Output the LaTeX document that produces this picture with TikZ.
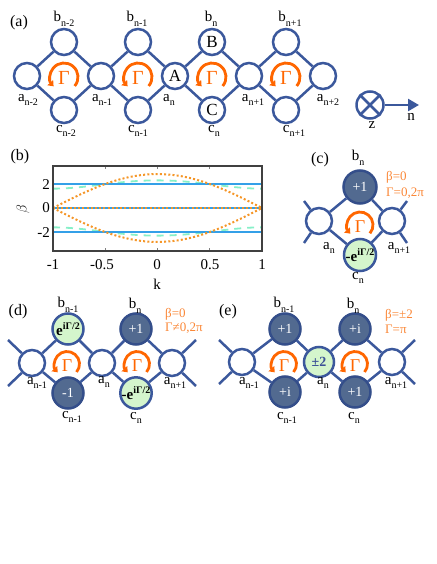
\documentclass[tikz,border=0pt]{standalone}
\usepackage{fontspec}
\setmainfont{Liberation Serif}
\usetikzlibrary{arrows.meta,calc}
\definecolor{lat}{RGB}{59,88,156}
\definecolor{dfill}{RGB}{82,106,144}
\definecolor{dborder}{RGB}{52,78,138}
\definecolor{gfill}{RGB}{212,245,204}
\definecolor{garr}{RGB}{255,102,0}
\definecolor{olab}{RGB}{250,135,55}
\definecolor{pblue}{RGB}{52,160,232}
\definecolor{pgreen}{RGB}{135,240,200}
\definecolor{porange}{RGB}{245,150,40}
\definecolor{pm}{RGB}{59,80,150}
\newcommand{\lb}[2]{#1\raisebox{-0.3em}{\fontsize{10}{10}\selectfont #2}}
\newcommand{\ephase}{{\fontsize{15}{15}\selectfont\bfseries e}\raisebox{6pt}{\fontsize{10}{10}\selectfont\bfseries iΓ/2}}
\newcommand{\mephase}{{\fontsize{15}{15}\selectfont\bfseries -e}\raisebox{6pt}{\fontsize{10}{10}\selectfont\bfseries iΓ/2}}
\begin{document}
\begin{tikzpicture}[x=1pt,y=-1pt,
  site/.style={circle, draw=lat, line width=2.5pt, fill=white, minimum size=26pt, inner sep=0pt, font=\fontsize{17}{17}\selectfont},
  dsite/.style={site, fill=dfill, draw=dborder, minimum size=31pt, text=white, font=\fontsize{14}{14}\selectfont},
  gsite/.style={site, fill=gfill, minimum size=31pt, font=\fontsize{14}{14}\selectfont},
  bond/.style={draw=lat, line width=2.5pt},
  lbl/.style={font=\fontsize{15}{15}\selectfont, inner sep=0pt},
  plabel/.style={font=\fontsize{16}{16}\selectfont, inner sep=0pt},
  olbl/.style={text=olab, font=\fontsize{13}{13}\selectfont, anchor=west, inner sep=0pt},
  garrow/.style={draw=garr, line width=2.8pt, -{Triangle[length=5pt,width=7.5pt]}},
  gam/.style={text=garr, inner sep=0pt, font=\fontsize{20}{20}\selectfont},
  gams/.style={gam, font=\fontsize{18}{18}\selectfont},
  tick/.style={font=\fontsize{15}{15}\selectfont, inner sep=0pt},
  pframe/.style={draw=black!75, line width=1.5pt},
  ptick/.style={draw=black!50, line width=0.6pt},
  bandblue/.style={draw=pblue, line width=1.7pt},
  bandgreen/.style={draw=pgreen, line width=1.8pt, dash pattern=on 7pt off 6pt},
  bandorange/.style={draw=porange, line width=2pt, dash pattern=on 2pt off 2.2pt}
]
\useasboundingbox (0,0) rectangle (436,564);

%% ---------------- panel (a) ----------------
\node[plabel] (la) at (19,23) {(a)};
\node[site] (a1) at (27,76) {};
\node[site] (a2) at (101,76) {};
\node[site] (a3) at (175,76) {A};
\node[site] (a4) at (249,76) {};
\node[site] (a5) at (323,76) {};
\node[site] (b1) at (64,42) {};
\node[site] (b2) at (138,42) {};
\node[site] (b3) at (212,42) {B};
\node[site] (b4) at (286,42) {};
\node[site] (c1) at (64,110) {};
\node[site] (c2) at (138,110) {};
\node[site] (c3) at (212,110) {C};
\node[site] (c4) at (286,110) {};
\foreach \p/\q in {a1/b1,a1/c1,b1/a2,c1/a2,a2/b2,a2/c2,b2/a3,c2/a3,a3/b3,a3/c3,b3/a4,c3/a4,a4/b4,a4/c4,b4/a5,c4/a5}
  \draw[bond] (\p) -- (\q);
\foreach \k/\x in {1/64,2/138,3/212,4/286}{
  \coordinate (ga\k) at (\x,77);
  \draw[garrow] ($(ga\k)+(-40:14pt)$) arc[start angle=-40,end angle=222,radius=14pt];
  \node[gam] (gt\k) at (\x,78) {Γ};
}
\node[lbl] (lb1) at (64,19) {\lb{b}{n-2}};
\node[lbl] (lb2) at (137,19) {\lb{b}{n-1}};
\node[lbl] (lb3) at (211,19) {\lb{b}{n}};
\node[lbl] (lb4) at (290,19) {\lb{b}{n+1}};
\node[lbl] (la1) at (28,100) {\lb{a}{n-2}};
\node[lbl] (la2) at (102,100) {\lb{a}{n-1}};
\node[lbl] (la3) at (169,100) {\lb{a}{n}};
\node[lbl] (la4) at (253,100) {\lb{a}{n+1}};
\node[lbl] (la5) at (328,100) {\lb{a}{n+2}};
\node[lbl] (lc1) at (66,131) {\lb{c}{n-2}};
\node[lbl] (lc2) at (138,131) {\lb{c}{n-1}};
\node[lbl] (lc3) at (214,131) {\lb{c}{n}};
\node[lbl] (lc4) at (294,131) {\lb{c}{n+1}};
% axes symbol
\node[site, minimum size=27pt] (zc) at (370,105) {};
\draw[bond] (zc.45) -- (zc.225);
\draw[bond] (zc.135) -- (zc.-45);
\coordinate (narr) at (419,105);
\draw[bond, -{Triangle[length=11pt,width=12pt]}] (zc) -- (narr);
\node[lbl] (zl) at (372,125) {z};
\node[lbl] (nl) at (411,117) {n};

%% ---------------- panel (b) ----------------
\node[plabel] (lbb) at (20,157) {(b)};
\foreach \t in {-0.5,0,0.5}{
  \draw[ptick] ({157.5+104.5*\t},166) -- ++(0,3);
  \draw[ptick] ({157.5+104.5*\t},251) -- ++(0,-3);
}
\foreach \b in {-2,0,2}{
  \draw[ptick] (53,{208-12*\b}) -- ++(3,0);
  \draw[ptick] (262,{208-12*\b}) -- ++(-3,0);
}
\draw[bandgreen] plot[domain=-1:1,samples=60] ({157.5+104.5*\x},{208-12*sqrt(2.6+2.7*cos(90*\x)^2)});
\draw[bandgreen] plot[domain=-1:1,samples=60] ({157.5+104.5*\x},{208+12*sqrt(2.6+2.7*cos(90*\x)^2)});
\draw[bandblue] (53,184) -- (262,184);
\draw[bandblue] (53,208) -- (262,208);
\draw[bandblue] (53,232) -- (262,232);
\draw[bandorange] plot[domain=-1:1,samples=60] ({157.5+104.5*\x},{208-12*2.828*cos(90*\x)});
\draw[bandorange] plot[domain=-1:1,samples=60] ({157.5+104.5*\x},{208+12*2.828*cos(90*\x)});
\draw[bandorange] (53,208) -- (262,208);
\draw[pframe] (53,166) rectangle (262,251);
\node[tick, anchor=east] (y2) at (50,185) {2};
\node[tick, anchor=east] (y0) at (50,208) {0};
\node[tick, anchor=east] (ym2) at (50,233) {-2};
\node[tick] (xm1) at (53,265) {-1};
\node[tick] (xm05) at (102,265) {-0.5};
\node[tick] (x0) at (157,265) {0};
\node[tick] (x05) at (210,265) {0.5};
\node[tick] (x1) at (262,265) {1};
\node[tick] (kl) at (157,284) {k};
\node[tick, rotate=90] (bl) at (23,209) {$\beta$};

%% ---------------- panel (c) ----------------
\node[plabel] (lcc) at (320,160) {(c)};
\node[dsite, minimum size=33pt] (cb) at (360,187) {+1};
\node[site] (ca1) at (319,221) {};
\node[site] (ca2) at (392,221) {};
\node[gsite, minimum size=32pt] (cc) at (360,255) {\mephase};
\coordinate (cs1) at (304,201);
\coordinate (cs2) at (304,243);
\coordinate (cs3) at (407,201);
\coordinate (cs4) at (407,243);
\foreach \p/\q in {ca1/cb,ca1/cc,cb/ca2,cc/ca2,ca1/cs1,ca1/cs2,ca2/cs3,ca2/cs4}
  \draw[bond] (\p) -- (\q);
\coordinate (gc) at (360,225);
\draw[garrow] ($(gc)+(-40:13pt)$) arc[start angle=-40,end angle=222,radius=13pt];
\node[gams] (gct) at (360,227) {Γ};
\node[lbl] (lcb) at (358,158) {\lb{b}{n}};
\node[lbl] (lca1) at (329,248) {\lb{a}{n}};
\node[lbl] (lca2) at (399,248) {\lb{a}{n+1}};
\node[lbl] (lcc1) at (358,278) {\lb{c}{n}};
\node[olbl] (cbeta) at (386,177) {β=0};
\node[olbl] (cgam) at (386,193) {Γ=0,2π};

%% ---------------- panel (d) ----------------
\node[plabel] (ldd) at (18,312) {(d)};
\node[site] (da1) at (32,363) {};
\node[site] (da2) at (102,363) {};
\node[site] (da3) at (172,363) {};
\node[gsite] (db1) at (68,329) {\ephase};
\node[dsite] (dc1) at (68,393) {-1};
\node[dsite] (db2) at (136,329) {+1};
\node[gsite] (dc2) at (136,393) {\mephase};
\coordinate (ds1) at (8,340);
\coordinate (ds2) at (8,386);
\coordinate (ds3) at (196,340);
\coordinate (ds4) at (196,386);
\foreach \p/\q in {da1/db1,da1/dc1,db1/da2,dc1/da2,da2/db2,da2/dc2,db2/da3,dc2/da3,da1/ds1,da1/ds2,da3/ds3,da3/ds4}
  \draw[bond] (\p) -- (\q);
\foreach \k/\x in {1/67,2/137}{
  \coordinate (gd\k) at (\x,364);
  \draw[garrow] ($(gd\k)+(-40:12.5pt)$) arc[start angle=-40,end angle=222,radius=12.5pt];
  \node[gams] (gdt\k) at (\x,366) {Γ};
}
\node[lbl] (ldb1) at (68,305) {\lb{b}{n-1}};
\node[lbl] (ldb2) at (135,306) {\lb{b}{n}};
\node[lbl] (lda1) at (37,383) {\lb{a}{n-1}};
\node[lbl] (lda2) at (104,382) {\lb{a}{n}};
\node[lbl] (lda3) at (175,383) {\lb{a}{n+1}};
\node[lbl] (ldc1) at (72,417) {\lb{c}{n-1}};
\node[lbl] (ldc2) at (136,418) {\lb{c}{n}};
\node[olbl] (dbeta) at (165,314) {β=0};
\node[olbl] (dgam) at (165,328) {Γ≠0,2π};

%% ---------------- panel (e) ----------------
\node[plabel] (lee) at (228,312) {(e)};
\node[site] (ea1) at (242,362) {};
\node[gsite, minimum size=30pt, text=pm, font=\bfseries\fontsize{14}{14}\selectfont] (ea2) at (319,362) {±2};
\node[site] (ea3) at (392,362) {};
\node[dsite] (eb1) at (285,329) {+1};
\node[dsite] (ec1) at (285,392) {+i};
\node[dsite] (eb2) at (355,329) {+i};
\node[dsite] (ec2) at (355,392) {+1};
\coordinate (es1) at (219,340);
\coordinate (es2) at (219,384);
\coordinate (es3) at (415,340);
\coordinate (es4) at (415,384);
\foreach \p/\q in {ea1/eb1,ea1/ec1,eb1/ea2,ec1/ea2,ea2/eb2,ea2/ec2,eb2/ea3,ec2/ea3,ea1/es1,ea1/es2,ea3/es3,ea3/es4}
  \draw[bond] (\p) -- (\q);
\foreach \k/\x in {1/284,2/355}{
  \coordinate (ge\k) at (\x,364);
  \draw[garrow] ($(ge\k)+(-40:12.5pt)$) arc[start angle=-40,end angle=222,radius=12.5pt];
  \node[gams] (get\k) at (\x,366) {Γ};
}
\node[lbl] (leb1) at (284,305) {\lb{b}{n-1}};
\node[lbl] (leb2) at (353,306) {\lb{b}{n}};
\node[lbl] (lea1) at (249,383) {\lb{a}{n-1}};
\node[lbl] (lea2) at (323,383) {\lb{a}{n}};
\node[lbl] (lea3) at (396,383) {\lb{a}{n+1}};
\node[lbl] (lec1) at (287,418) {\lb{c}{n-1}};
\node[lbl] (lec2) at (354,418) {\lb{c}{n}};
\node[olbl] (ebeta) at (385,315) {β=±2};
\node[olbl] (egam) at (385,329) {Γ=π};
\end{tikzpicture}
\end{document}
